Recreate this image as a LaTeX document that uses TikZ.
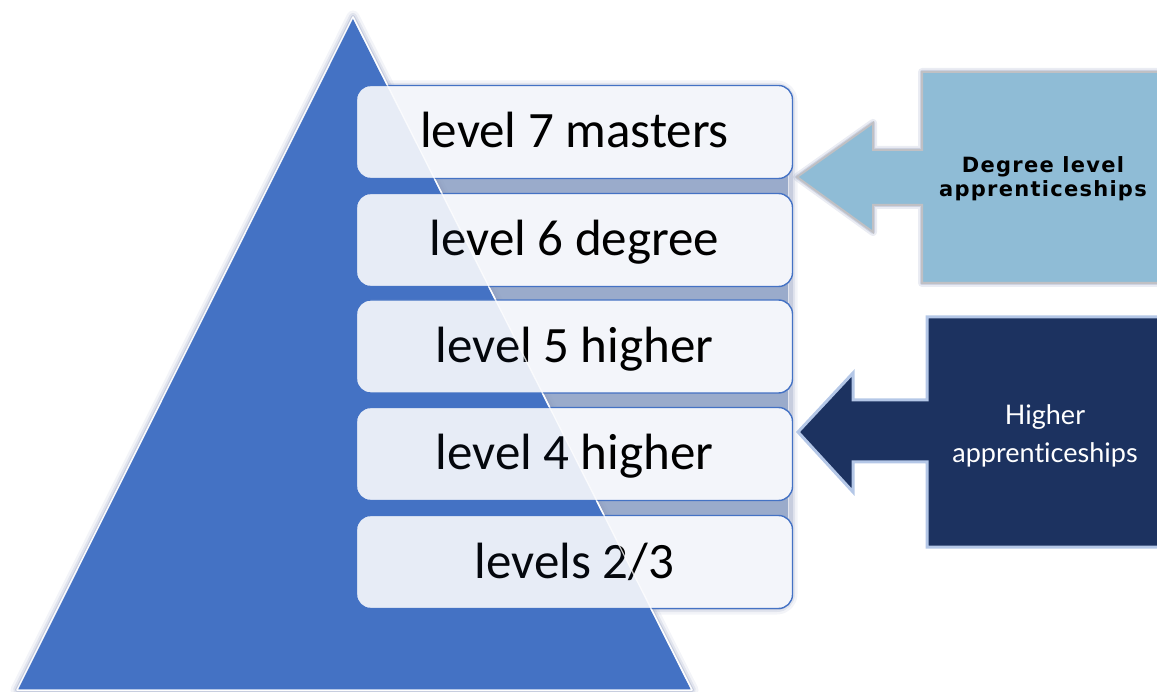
\documentclass[tikz,border=0pt]{standalone}
\usepackage{fontspec}
\newfontfamily\boxfont{Carlito}
\newfontfamily\degfont[LetterSpace=6]{DejaVu Sans Bold}
\newfontfamily\higherfont[Ligatures=NoCommon]{Lato}
\definecolor{pyrblue}{RGB}{68,114,196}
\definecolor{boxfill}{RGB}{243,245,250}
\definecolor{slate}{RGB}{154,171,203}
\definecolor{glowgray}{RGB}{140,152,188}
\definecolor{skyfill}{RGB}{143,188,214}
\definecolor{navy}{RGB}{28,50,96}
\definecolor{paleblue}{RGB}{180,199,231}
\definecolor{lightgray}{RGB}{192,192,196}
\begin{document}
\begin{tikzpicture}[x=1pt,y=-1pt,
  levelbox/.style={draw=pyrblue,line width=1.4pt,fill=boxfill,rounded corners=14pt,
    minimum width=436pt,minimum height=93pt,inner sep=0pt,
    text height=32pt,text depth=0pt,font=\boxfont\fontsize{51}{56}\selectfont},
  glowA/.style={draw=glowgray,line width=13pt,opacity=0.10,line join=round},
  glowB/.style={draw=glowgray,line width=8pt,opacity=0.18,line join=round},
  glowC/.style={draw=glowgray,line width=4pt,opacity=0.30,line join=round},
  degtext/.style={anchor=base,inner sep=0pt,font=\degfont\fontsize{21}{24}\selectfont},
  hightext/.style={anchor=base,inner sep=0pt,text=white,font=\higherfont\fontsize{27}{37}\selectfont}]
\useasboundingbox (0,0) rectangle (1157,692);
\clip (0,0) rectangle (1157,692);

% shadow strip behind the stacked level boxes
\foreach \g in {glowA,glowB,glowC}
  \draw[\g,rounded corners=14pt] (357,87) rectangle (791,608);
\fill[slate] (360,90) rectangle (788,605);

% the pyramid with its soft outer glow
\foreach \g in {glowA,glowB,glowC}
  \draw[\g] (353,17) -- (17,690) -- (692,690) -- cycle;
\fill[pyrblue] (353,17) -- (17,690) -- (692,690) -- cycle;
\draw[white,line width=1.5pt,line join=round] (353,17) -- (17,690) -- (692,690) -- cycle;

% level boxes
\node[levelbox] (l7) at (574.5,132) {level 7 masters};
\node[levelbox] (l6) at (574.5,240) {level 6 degree};
\node[levelbox] (l5) at (574.5,346.5) {level 5 higher};
\node[levelbox] (l4) at (574.5,454) {level 4 higher};
\node[levelbox] (l23) at (574.5,562) {levels 2/3};

% pyramid showing faintly through the translucent boxes
\fill[pyrblue,opacity=0.065] (353,17) -- (17,690) -- (692,690) -- cycle;
\draw[white,opacity=0.75,line width=1.3pt] (353,17) -- (692,690);

% degree level callout
\foreach \g in {glowB,glowC}
  \draw[\g] (922,72) -- (1170,72) -- (1170,283) -- (922,283) -- (922,205) -- (873,205)
    -- (873,232) -- (797,177) -- (873,123) -- (873,150) -- (922,150) -- cycle;
\filldraw[fill=skyfill,draw=lightgray,line width=2pt]
  (922,72) -- (1170,72) -- (1170,283) -- (922,283) -- (922,205) -- (873,205)
  -- (873,232) -- (797,177) -- (873,123) -- (873,150) -- (922,150) -- cycle;
\node[degtext] (deg1) at (1043,173) {Degree level};
\node[degtext] (deg2) at (1043,197) {apprenticeships};

% higher apprenticeships callout
\filldraw[fill=navy,draw=paleblue,line width=3pt,line join=miter]
  (927,317) -- (1170,317) -- (1170,547) -- (927,547) -- (927,462) -- (853,462)
  -- (853,492) -- (798,432) -- (853,373) -- (853,400) -- (927,400) -- cycle;
\node[hightext] (hi1) at (1045,425) {Higher};
\node[hightext] (hi2) at (1045,462) {apprenticeships};
\end{tikzpicture}
\end{document}
